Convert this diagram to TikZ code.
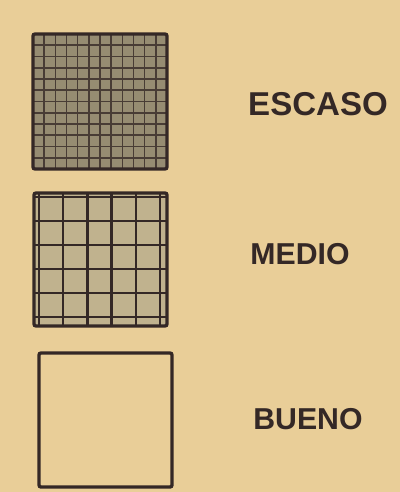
\documentclass[tikz,border=0pt]{standalone}
\usepackage{fontspec}
\setmainfont{Liberation Sans}
\definecolor{papel}{RGB}{233,206,152}
\definecolor{tinta}{RGB}{52,40,38}
\definecolor{grisoscuro}{RGB}{150,140,114}
\definecolor{grismedio}{RGB}{192,178,142}
\tikzset{
  cuadro/.style={draw=tinta, line width=2.4pt, rounded corners=1.5pt, inner sep=0pt},
  rejillafina/.style={draw=tinta!80!grisoscuro, line width=1.1pt},
  rejilla/.style={draw=tinta, line width=1.6pt},
  rotulo/.style={text=tinta, font=\fontsize{21.5}{26}\selectfont\bfseries, inner sep=0pt},
}
\begin{document}
\begin{tikzpicture}[x=0.025cm, y=-0.025cm]
  \fill[papel] (0,0) rectangle (400,492);
  \useasboundingbox (0,0) rectangle (400,492);

  % escaso
  \fill[grisoscuro] (33,34) rectangle (167,169);
  \foreach \i in {1,...,11} {
    \draw[rejillafina] (33+\i*11.17,34) -- (33+\i*11.17,169);
    \draw[rejillafina] (33,34+\i*11.25) -- (167,34+\i*11.25);
  }
  \node[cuadro, minimum width=3.35cm, minimum height=3.375cm] (escaso) at (100,101.5) {};

  % medio
  \fill[grismedio] (34,193) rectangle (167,326);
  \foreach \i in {0,...,5} {
    \draw[rejilla] (39+\i*24.2,193) -- (39+\i*24.2,326);
    \draw[rejilla] (34,197+\i*24) -- (167,197+\i*24);
  }
  \node[cuadro, minimum width=3.325cm, minimum height=3.325cm] (medio) at (100.5,259.5) {};

  % bueno
  \node[cuadro, minimum width=3.325cm, minimum height=3.35cm] (bueno) at (105.5,420) {};

  \node[rotulo, font=\fontsize{23.5}{28}\selectfont\bfseries] (tescaso) at (318,104) {ESCASO};
  \node[rotulo] (tmedio) at (300,254) {MEDIO};
  \node[rotulo] (tbueno) at (308,419) {BUENO};
\end{tikzpicture}
\end{document}
